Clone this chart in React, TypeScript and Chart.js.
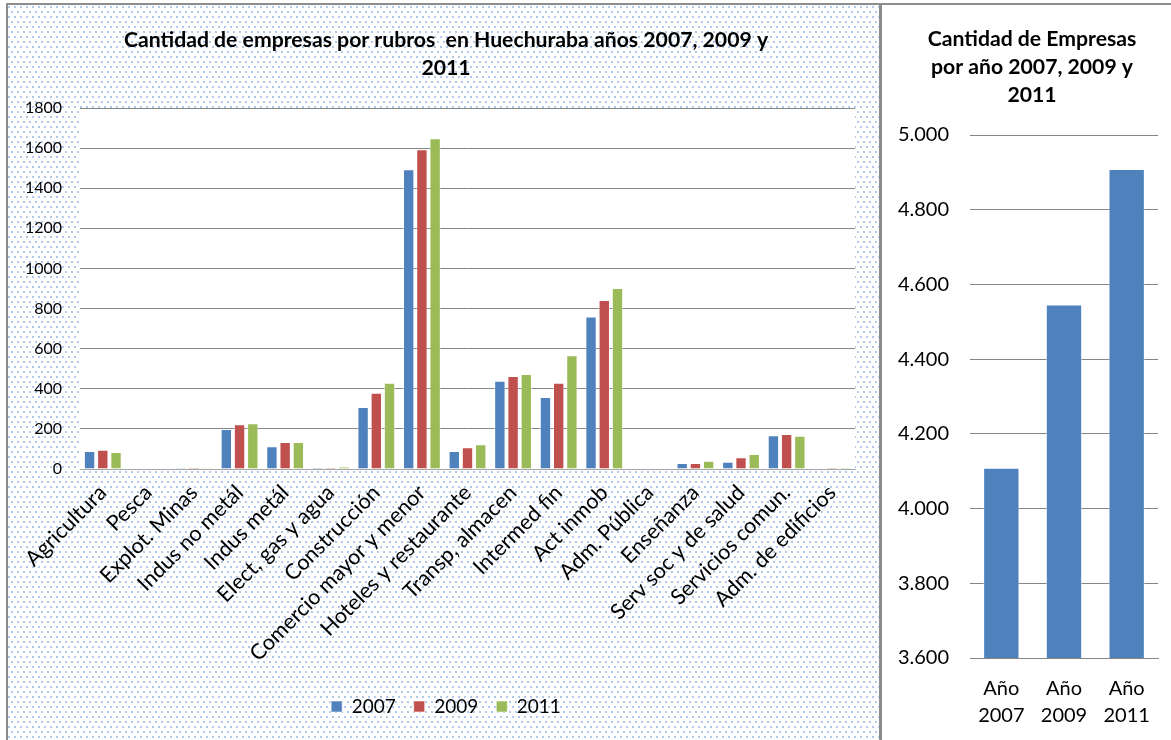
import React, { useEffect, useRef } from "react";
import { Chart, registerables } from "chart.js";

Chart.register(...registerables);

// ---------- data ----------
const categories = [
  "Agricultura",
  "Pesca",
  "Explot. Minas",
  "Indus no metál",
  "Indus metál",
  "Elect, gas y agua",
  "Construcción",
  "Comercio mayor y menor",
  "Hoteles y restaurante",
  "Transp, almacen",
  "Intermed fin",
  "Act inmob",
  "Adm. Pública",
  "Enseñanza",
  "Serv soc y de salud",
  "Servicios comun.",
  "Adm. de edificios",
];
const seriesNames = ["2007", "2009", "2011"];
const values2007 = [90, 0, 6, 200, 113, 7, 309, 1495, 90, 440, 359, 760, 0, 30, 36, 168, 0];
const values2009 = [96, 0, 7, 223, 135, 7, 380, 1594, 108, 464, 430, 843, 0, 30, 58, 175, 8];
const values2011 = [85, 0, 6, 228, 135, 13, 430, 1649, 123, 474, 567, 903, 0, 41, 75, 166, 7];
const leftTitle = ["Cantidad de empresas por rubros  en Huechuraba años 2007, 2009 y", "2011"];

const totalCategories = [["Año", "2007"], ["Año", "2009"], ["Año", "2011"]];
const totalValues = [4109, 4546, 4909];
const rightTitle = ["Cantidad de Empresas", "por año 2007, 2009 y", "2011"];

const COLORS = ["#4F81BD", "#C0504D", "#9BBB59"];
const FONT = "Lato, 'Open Sans', sans-serif";

const plotBg = {
  id: "plotBg",
  beforeDraw(chart: any) {
    const { ctx, chartArea } = chart;
    if (!chartArea) return;
    ctx.save();
    ctx.fillStyle = "#ffffff";
    ctx.fillRect(chartArea.left, chartArea.top, chartArea.right - chartArea.left, chartArea.bottom - chartArea.top);
    ctx.restore();
  },
};

function fmtDots(v: number) {
  return String(Math.round(v)).replace(/\B(?=(\d{3})+(?!\d))/g, ".");
}

// an empty spacer axis on the right, so the title/legend are centred like the original
function spacerAxis(width: number, min: number, max: number) {
  return {
    position: "right",
    display: true,
    min,
    max,
    grid: { display: false, drawTicks: false },
    border: { display: false },
    ticks: { display: false },
    afterFit(scale: any) {
      scale.width = width;
    },
  };
}

function LeftChart() {
  const ref = useRef<HTMLCanvasElement | null>(null);
  useEffect(() => {
    if (!ref.current) return;
    const series = [values2007, values2009, values2011];
    const chart = new Chart(ref.current, {
      type: "bar",
      data: {
        labels: categories,
        datasets: series.map((vals, i) => ({
          label: seriesNames[i],
          data: vals,
          yAxisID: "y",
          backgroundColor: COLORS[i],
          borderColor: "rgba(255,255,255,0.55)",
          borderWidth: 1,
          categoryPercentage: 0.87,
          barPercentage: 0.86,
        })),
      },
      options: {
        responsive: false,
        animation: false,
        devicePixelRatio: 1,
        layout: { padding: { left: 0, right: 0, top: 0, bottom: 14 } },
        plugins: {
          title: {
            display: true,
            text: leftTitle,
            color: "#000",
            font: { family: FONT, size: 21.2, weight: "bold", lineHeight: "28px" } as any,
            padding: { top: 20, bottom: 26 },
          },
          legend: {
            display: true,
            position: "bottom",
            labels: {
              color: "#000",
              font: { family: FONT, size: 19 },
              boxWidth: 11,
              boxHeight: 11,
              padding: 18,
            },
          },
          tooltip: { enabled: false },
        },
        scales: {
          x: {
            grid: { display: false, drawTicks: false, tickLength: 0 },
            border: { display: true, color: "#a6a6a6" },
            ticks: {
              color: "#000",
              font: { family: FONT, size: 21.5 },
              minRotation: 45,
              maxRotation: 45,
              autoSkip: false,
              padding: 11,
            },
            afterFit(scale: any) {
              scale.height = 210;
            },
          },
          y: {
            position: "left",
            min: 0,
            max: 1800,
            grid: { color: "#868686", drawTicks: false, tickLength: 0 },
            border: { display: false },
            ticks: {
              stepSize: 200,
              color: "#000",
              font: { family: FONT, size: 16 },
              padding: 18,
              callback: (v: any) => String(v),
            },
            afterFit(scale: any) {
              scale.width = 72;
            },
          },
          ySpacer: spacerAxis(29, 0, 1800),
        },
      },
      plugins: [plotBg],
    } as any);
    return () => chart.destroy();
  }, []);
  return <canvas ref={ref} width={876} height={734} style={{ width: 876, height: 734, display: "block" }} />;
}

function RightChart() {
  const ref = useRef<HTMLCanvasElement | null>(null);
  useEffect(() => {
    if (!ref.current) return;
    const chart = new Chart(ref.current, {
      type: "bar",
      data: {
        labels: totalCategories,
        datasets: [
          {
            label: "Total",
            data: totalValues,
            yAxisID: "y",
            backgroundColor: COLORS[0],
            borderColor: "rgba(255,255,255,0.5)",
            borderWidth: 1,
            categoryPercentage: 0.58,
            barPercentage: 1,
          },
        ],
      },
      options: {
        responsive: false,
        animation: false,
        devicePixelRatio: 1,
        layout: { padding: { left: 0, right: 0, top: 0, bottom: 0 } },
        plugins: {
          title: {
            display: true,
            text: rightTitle,
            color: "#000",
            font: { family: FONT, size: 21.2, weight: "bold", lineHeight: "28px" } as any,
            padding: { top: 19, bottom: 26 },
          },
          legend: { display: false },
          tooltip: { enabled: false },
        },
        scales: {
          x: {
            grid: { display: false, drawTicks: false, tickLength: 0 },
            border: { display: true, color: "#868686" },
            ticks: {
              color: "#000",
              font: { family: FONT, size: 20, lineHeight: "27px" } as any,
              maxRotation: 0,
              minRotation: 0,
              padding: 17,
            },
            afterFit(scale: any) {
              scale.height = 82;
            },
          },
          y: {
            position: "left",
            min: 3600,
            max: 5000,
            grid: { color: "#868686", drawTicks: false, tickLength: 0 },
            border: { display: false },
            ticks: {
              stepSize: 200,
              color: "#000",
              font: { family: FONT, size: 20 },
              padding: 21,
              callback: (v: any) => fmtDots(Number(v)),
            },
            afterFit(scale: any) {
              scale.width = 88;
            },
          },
          ySpacer: spacerAxis(24, 3600, 5000),
        },
      },
      plugins: [plotBg],
    } as any);
    return () => chart.destroy();
  }, []);
  return <canvas ref={ref} width={300} height={734} style={{ width: 300, height: 734, display: "block" }} />;
}

export default function App() {
  useEffect(() => {
    document.body.style.margin = "0";
    document.body.style.overflow = "hidden";
  }, []);
  const dots =
    "radial-gradient(circle at 1px 1px, #9bb9e2 0.6px, rgba(255,255,255,0) 1.1px), radial-gradient(circle at 4px 6px, #9bb9e2 0.6px, rgba(255,255,255,0) 1.1px)";
  return (
    <div style={{ position: "fixed", left: 0, top: 0, width: 1171, height: 740, background: "#fff", overflow: "hidden" }}>
      {/* dotted background of left chart */}
      <div
        style={{
          position: "absolute",
          left: 8,
          top: 6,
          width: 871,
          height: 734,
          backgroundColor: "#fff",
          backgroundImage: dots,
          backgroundSize: "6px 10px",
        }}
      />
      <div style={{ position: "absolute", left: 8, top: 6 }}>
        <LeftChart />
      </div>
      <div style={{ position: "absolute", left: 882, top: 6 }}>
        <RightChart />
      </div>
      {/* frame lines */}
      <div style={{ position: "absolute", left: 6, top: 3, width: 1165, height: 2, background: "#8c8c8c" }} />
      <div style={{ position: "absolute", left: 6, top: 3, width: 2, height: 737, background: "#8c8c8c" }} />
      <div style={{ position: "absolute", left: 879, top: 3, width: 3, height: 737, background: "#8c8c8c" }} />
    </div>
  );
}
